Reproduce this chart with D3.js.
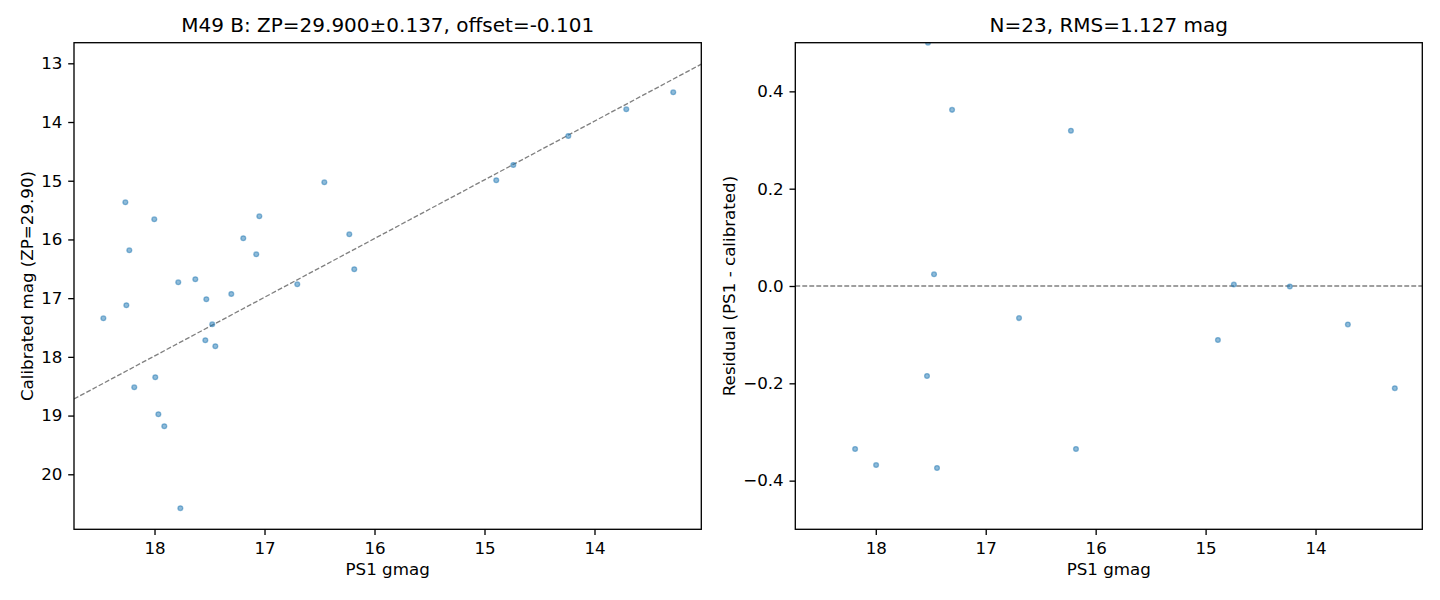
<!DOCTYPE html>
<html>
<head>
<meta charset="utf-8">
<script src="https://cdn.jsdelivr.net/npm/d3@7"></script>
<style>
  body { margin:0; background:#fff; }
  svg { font-family:"DejaVu Sans", sans-serif; }
</style>
</head>
<body>
<svg id="chart"></svg>
<script>
// left panel: every star, PS1 gmag vs calibrated mag
var gmag = [18.465, 18.265, 18.256, 18.229, 18.184, 18.002, 17.993, 17.965, 17.911, 17.784,
            17.765, 17.629, 17.538, 17.529, 17.475, 17.447, 17.302, 17.193, 17.075, 17.047,
            16.702, 16.456, 16.229, 16.184, 14.893, 14.738, 14.238, 13.711, 13.284]
var calMag = [17.343, 15.367, 17.121, 16.185, 18.518, 15.657, 18.347, 18.977, 19.182, 16.730,
              20.578, 16.678, 17.717, 17.019, 17.445, 17.819, 16.929, 15.980, 16.253, 15.606,
              16.764, 15.027, 15.912, 16.508, 14.992, 14.732, 14.238, 13.783, 13.494]
var lineOffset = -0.015

// right panel: residuals inside the plotted range
var resGmag = [17.525, 17.306, 16.225, 17.470, 16.697, 17.534, 18.188, 17.997, 17.443, 16.179,
               14.743, 14.234, 14.888, 13.706, 13.279]
var residual = [0.500, 0.362, 0.319, 0.024, -0.066, -0.185, -0.335, -0.368, -0.374, -0.335,
                0.003, -0.001, -0.111, -0.079, -0.210]

var xTicks = [18, 17, 16, 15, 14]
var yTicksLeft = [13, 14, 15, 16, 17, 18, 19, 20]
var yTicksRight = [-0.4, -0.2, 0.0, 0.2, 0.4]

var titleLeft = "M49 B: ZP=29.900\u00b10.137, offset=-0.101"
var titleRight = "N=23, RMS=1.127 mag"

var screen = {width:1440, height:600}
var svg = d3.select("#chart")
    .attr("width", screen.width)
    .attr("height", screen.height)

var pointColor = "#1f77b4"
var fontSize = 16.7
var lw = 1.33

var drawPanel = function(opts)
{
    var xScale = d3.scaleLinear()
        .domain([18.732, 13.029])
        .range([opts.left, opts.right])
    var yScale = d3.scaleLinear()
        .domain(opts.yDomain)
        .range([opts.bottom, opts.top])

    var clipId = "clip" + opts.name
    svg.append("clipPath")
        .attr("id", clipId)
        .append("rect")
        .attr("x", opts.left)
        .attr("y", opts.top)
        .attr("width", opts.right - opts.left)
        .attr("height", opts.bottom - opts.top)

    var plot = svg.append("g").attr("clip-path", "url(#" + clipId + ")")

    // reference dashed line
    plot.append("path")
        .datum(opts.lineX)
        .attr("d", d3.line()
            .x(function(d) { return xScale(d) })
            .y(function(d) { return yScale(opts.lineY(d)) }))
        .attr("fill", "none")
        .attr("stroke", "#808080")
        .attr("stroke-width", lw)
        .attr("stroke-dasharray", "4.9,2.1")

    plot.selectAll("circle")
        .data(opts.xs)
        .enter()
        .append("circle")
        .attr("cx", function(d) { return xScale(d) })
        .attr("cy", function(d, i) { return yScale(opts.ys[i]) })
        .attr("r", 2.4)
        .attr("fill", pointColor)
        .attr("fill-opacity", 0.5)
        .attr("stroke", pointColor)
        .attr("stroke-opacity", 0.5)
        .attr("stroke-width", 1.3)

    // axes
    var xAxis = d3.axisBottom(xScale)
        .tickValues(xTicks)
        .tickSize(5.8)
        .tickPadding(6.6)
        .tickFormat(d3.format("d"))
    var yAxis = d3.axisLeft(yScale)
        .tickValues(opts.yTicks)
        .tickSize(5.8)
        .tickPadding(5.8)
        .tickFormat(opts.yFormat)

    var gx = svg.append("g")
        .attr("transform", "translate(0," + opts.bottom + ")")
        .call(xAxis)
    var gy = svg.append("g")
        .attr("transform", "translate(" + opts.left + ",0)")
        .call(yAxis)
    ;[gx, gy].forEach(function(g)
    {
        g.select(".domain").remove()
        g.selectAll("line").attr("stroke", "#000").attr("stroke-width", lw)
        g.selectAll("text")
            .attr("fill", "#000")
            .style("font-size", fontSize + "px")
            .style("font-family", "DejaVu Sans")
    })

    svg.append("rect")
        .attr("x", opts.left)
        .attr("y", opts.top)
        .attr("width", opts.right - opts.left)
        .attr("height", opts.bottom - opts.top)
        .attr("fill", "none")
        .attr("stroke", "#000")
        .attr("stroke-width", lw)

    var cx = (opts.left + opts.right) / 2
    svg.append("text")
        .attr("x", cx)
        .attr("y", 32)
        .attr("text-anchor", "middle")
        .style("font-size", "20px")
        .text(opts.title)

    svg.append("text")
        .attr("x", cx)
        .attr("y", 575)
        .attr("text-anchor", "middle")
        .style("font-size", fontSize + "px")
        .text("PS1 gmag")

    svg.append("text")
        .attr("transform", "translate(" + opts.ylabelX + "," + ((opts.top + opts.bottom) / 2) + ") rotate(-90)")
        .attr("text-anchor", "middle")
        .style("font-size", fontSize + "px")
        .text(opts.ylabel)
}

drawPanel({
    name:"L", left:74, right:701.3, top:42.7, bottom:529.3,
    yDomain:[20.937, 12.649],
    xs:gmag, ys:calMag,
    lineX:[18.732, 13.029],
    lineY:function(x) { return x + lineOffset },
    yTicks:yTicksLeft,
    yFormat:d3.format("d"),
    title:titleLeft,
    ylabel:"Calibrated mag (ZP=29.90)",
    ylabelX:33
})

drawPanel({
    name:"R", left:795.3, right:1422.3, top:42.7, bottom:529.3,
    yDomain:[-0.5, 0.5],
    xs:resGmag, ys:residual,
    lineX:[18.732, 13.029],
    lineY:function(x) { return 0 },
    yTicks:yTicksRight,
    yFormat:function(d) { return d3.format(".1f")(d).replace("-", "\u2212") },
    title:titleRight,
    ylabel:"Residual (PS1 - calibrated)",
    ylabelX:734.5
})
</script>
</body>
</html>
